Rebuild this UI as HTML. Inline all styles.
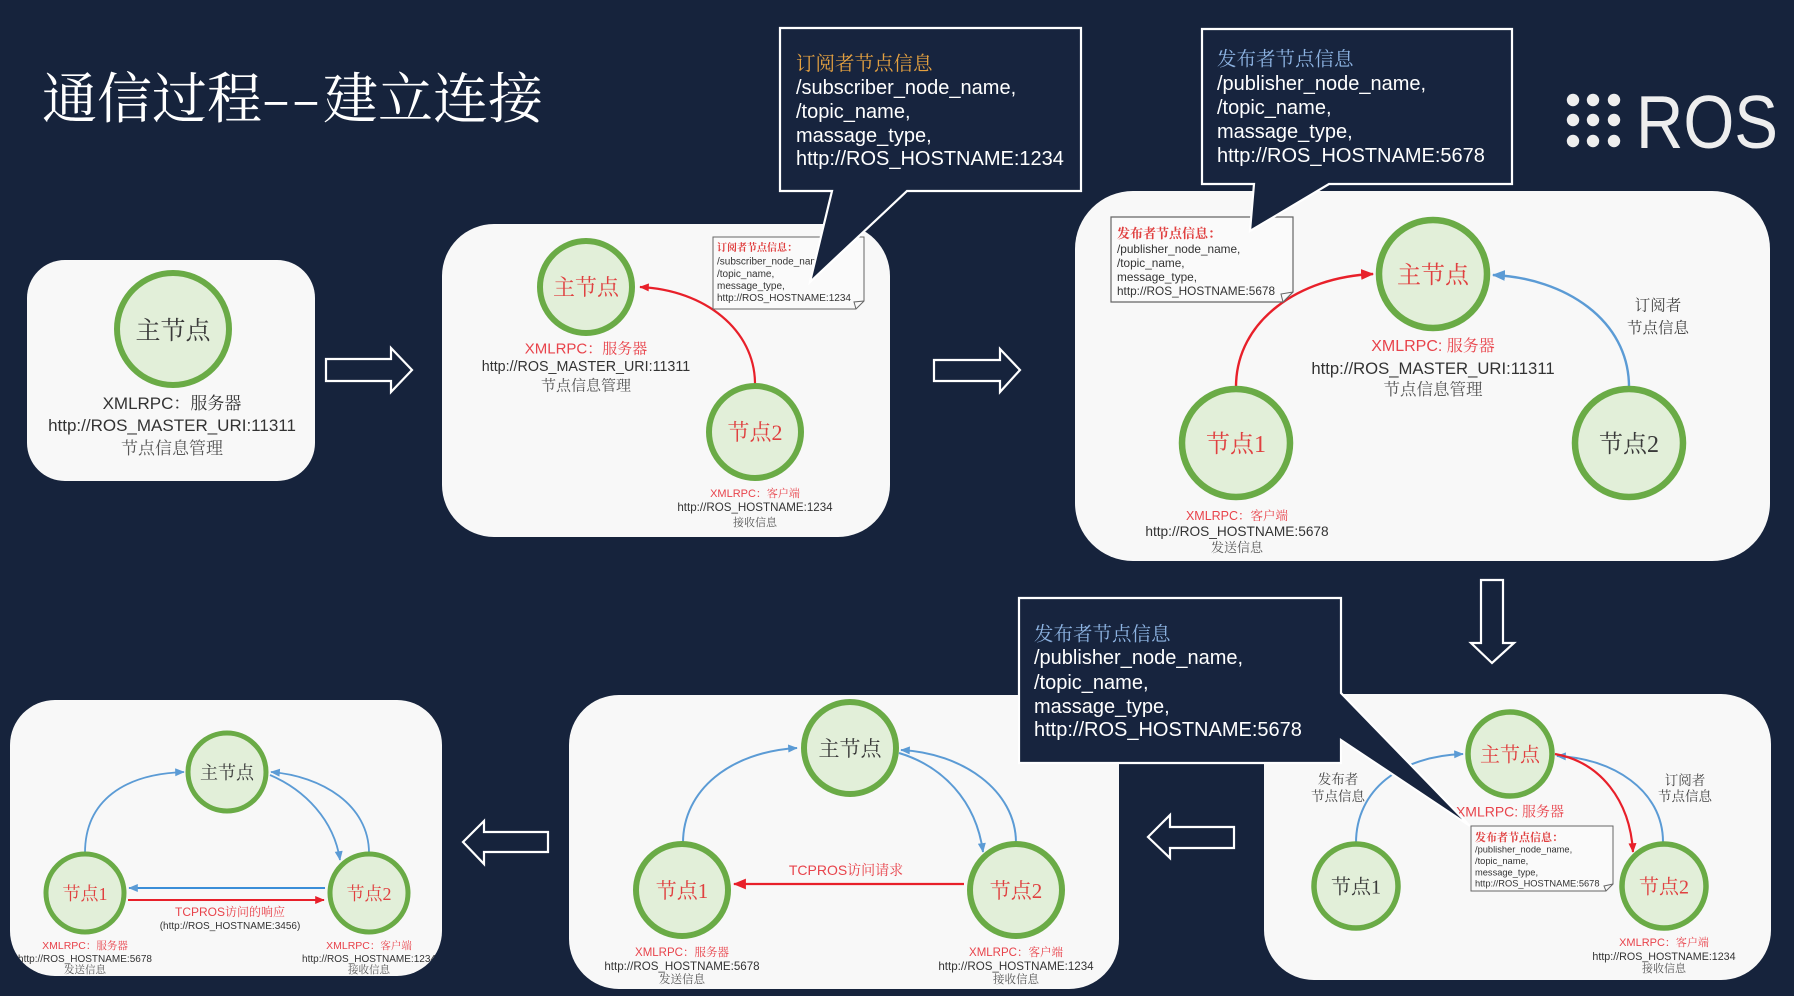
<!DOCTYPE html>
<html>
<head>
<meta charset="utf-8">
<style>
  html,body{margin:0;padding:0;background:#16233c;}
  svg{display:block;}
  .cj{font-family:"Liberation Serif","Noto Serif CJK SC",serif;}
  .ls{font-family:"Liberation Sans","Noto Serif CJK SC",serif;}
  .sc{font-family:"Noto Serif CJK SC","Liberation Serif",serif;}
</style>
</head>
<body>
<svg width="1794" height="996" viewBox="0 0 1794 996" xmlns="http://www.w3.org/2000/svg">
  <defs>
    <marker id="rL" viewBox="0 0 12 10" refX="11" refY="5" markerWidth="13" markerHeight="11" markerUnits="userSpaceOnUse" orient="auto">
      <path d="M0,0 L12,5 L0,10 z" fill="#e8202a"/>
    </marker>
    <marker id="bL" viewBox="0 0 12 10" refX="11" refY="5" markerWidth="13" markerHeight="11" markerUnits="userSpaceOnUse" orient="auto">
      <path d="M0,0 L12,5 L0,10 z" fill="#5b9bd5"/>
    </marker>
    <marker id="rS" viewBox="0 0 12 10" refX="11" refY="5" markerWidth="10" markerHeight="8" markerUnits="userSpaceOnUse" orient="auto">
      <path d="M0,0 L12,5 L0,10 z" fill="#e8202a"/>
    </marker>
    <marker id="bS" viewBox="0 0 12 10" refX="11" refY="5" markerWidth="10" markerHeight="8" markerUnits="userSpaceOnUse" orient="auto">
      <path d="M0,0 L12,5 L0,10 z" fill="#5b9bd5"/>
    </marker>
    <clipPath id="c6"><rect x="10" y="700" width="432" height="276" rx="45"/></clipPath>
  </defs>

  <rect x="0" y="0" width="1794" height="996" fill="#16233c"/>

  <!-- Title -->
  <text x="42" y="118" class="sc" font-size="55" fill="#ffffff">通信过程</text>
  <text x="261" y="118" class="sc" font-size="55" fill="#ffffff" textLength="60" lengthAdjust="spacingAndGlyphs">--</text>
  <text x="323" y="118" class="sc" font-size="55" fill="#ffffff">建立连接</text>

  <!-- ROS logo -->
  <g fill="#eeeeee">
    <circle cx="1573" cy="100" r="6.2"/><circle cx="1593" cy="100" r="6.2"/><circle cx="1614" cy="100" r="6.2"/>
    <circle cx="1573" cy="120" r="6.2"/><circle cx="1593" cy="120" r="6.2"/><circle cx="1614" cy="120" r="6.2"/>
    <circle cx="1573" cy="141" r="6.2"/><circle cx="1593" cy="141" r="6.2"/><circle cx="1614" cy="141" r="6.2"/>
  </g>
  <text x="1636" y="148" font-family="Liberation Sans, sans-serif" font-size="75" fill="#eeeeee" textLength="142" lengthAdjust="spacingAndGlyphs">ROS</text>

  <!-- ===== Box 1 ===== -->
  <rect x="27" y="260" width="288" height="221" rx="38" fill="#f8f8f8"/>
  <circle cx="173" cy="329" r="56" fill="#e2efd9" stroke="#6aab46" stroke-width="6"/>
  <text x="173" y="339" class="cj" font-size="25" fill="#3a3a3a" text-anchor="middle">主节点</text>
  <text x="172" y="409" class="ls" font-size="17" fill="#333" text-anchor="middle">XMLRPC：服务器</text>
  <text x="172" y="431" class="ls" font-size="17" fill="#333" text-anchor="middle">http://ROS_MASTER_URI:11311</text>
  <text x="172" y="454" class="ls" font-size="17" fill="#555" text-anchor="middle">节点信息管理</text>

  <!-- Arrow 1 -->
  <path d="M326,359 H391 V348 L412,370 L391,392 V381 H326 Z" fill="#16233c" stroke="#ffffff" stroke-width="2.2" stroke-linejoin="miter"/>

  <!-- ===== Box 2 ===== -->
  <rect x="442" y="224" width="448" height="313" rx="52" fill="#f8f8f8"/>
  <path d="M755,384 C755,330 705,290 640,287" fill="none" stroke="#e8202a" stroke-width="2.2" marker-end="url(#rS)"/>
  <circle cx="586" cy="287" r="46" fill="#e2efd9" stroke="#6aab46" stroke-width="6"/>
  <text x="586" y="295" class="cj" font-size="22" fill="#e04040" text-anchor="middle">主节点</text>
  <text x="586" y="353.5" class="ls" font-size="15" fill="#e8434b" text-anchor="middle">XMLRPC：服务器</text>
  <text x="586" y="371" class="ls" font-size="14.3" fill="#333" text-anchor="middle">http://ROS_MASTER_URI:11311</text>
  <text x="586" y="390.5" class="ls" font-size="15" fill="#555" text-anchor="middle">节点信息管理</text>
  <circle cx="755" cy="432" r="46" fill="#e2efd9" stroke="#6aab46" stroke-width="6"/>
  <text x="755" y="440" class="cj" font-size="22" fill="#e04040" text-anchor="middle">节点2</text>
  <text x="755" y="497" class="ls" font-size="11" fill="#e8434b" text-anchor="middle">XMLRPC：客户端</text>
  <text x="755" y="511" class="ls" font-size="11.6" fill="#333" text-anchor="middle">http://ROS_HOSTNAME:1234</text>
  <text x="755" y="526" class="ls" font-size="11" fill="#555" text-anchor="middle">接收信息</text>
  <!-- note -->
  <path d="M713,237 H864 V301 L856,309 H713 Z" fill="#fafafa" stroke="#666" stroke-width="1"/>
  <path d="M864,301 L854,302 L856,309" fill="none" stroke="#666" stroke-width="1"/>
  <text x="717" y="251" class="ls" font-size="10" font-weight="bold" fill="#e04040">订阅者节点信息：</text>
  <text x="717" y="264.5" class="ls" font-size="10" fill="#333">/subscriber_node_name,</text>
  <text x="717" y="277" class="ls" font-size="10" fill="#333">/topic_name,</text>
  <text x="717" y="289" class="ls" font-size="10" fill="#333">message_type,</text>
  <text x="717" y="301" class="ls" font-size="10" fill="#333">http://ROS_HOSTNAME:1234</text>

  <!-- Callout 1 -->
  <path d="M780,28 H1081 V191 H907 L810,282 L832,191 H780 Z" fill="#17243e" stroke="#ffffff" stroke-width="2.2" stroke-linejoin="miter"/>
  <text x="796" y="70" class="sc" font-size="19.5" fill="#e5a140">订阅者节点信息</text>
  <text x="796" y="94" font-family="Liberation Sans, sans-serif" font-size="20" fill="#ffffff">/subscriber_node_name,</text>
  <text x="796" y="118" font-family="Liberation Sans, sans-serif" font-size="20" fill="#ffffff">/topic_name,</text>
  <text x="796" y="142" font-family="Liberation Sans, sans-serif" font-size="20" fill="#ffffff">massage_type,</text>
  <text x="796" y="165" font-family="Liberation Sans, sans-serif" font-size="20" fill="#ffffff">http://ROS_HOSTNAME:1234</text>

  <!-- Arrow 2 -->
  <path d="M934,360 H1000 V349 L1020,370 L1000,392 V381 H934 Z" fill="#16233c" stroke="#ffffff" stroke-width="2.2"/>

  <!-- ===== Box 3 ===== -->
  <rect x="1075" y="191" width="695" height="370" rx="58" fill="#f8f8f8"/>
  <path d="M1236,387 C1236,320 1300,277 1373,274" fill="none" stroke="#e8202a" stroke-width="2.4" marker-end="url(#rL)"/>
  <path d="M1629,387 C1629,320 1565,278 1493,275" fill="none" stroke="#5b9bd5" stroke-width="2.4" marker-end="url(#bL)"/>
  <circle cx="1433" cy="274" r="54" fill="#e2efd9" stroke="#6aab46" stroke-width="6.5"/>
  <text x="1433" y="283" class="cj" font-size="24" fill="#e04040" text-anchor="middle">主节点</text>
  <circle cx="1236" cy="443" r="54" fill="#e2efd9" stroke="#6aab46" stroke-width="6.5"/>
  <text x="1236" y="452" class="cj" font-size="24" fill="#e04040" text-anchor="middle">节点1</text>
  <circle cx="1629" cy="443" r="54" fill="#e2efd9" stroke="#6aab46" stroke-width="6.5"/>
  <text x="1629" y="452" class="cj" font-size="24" fill="#3a3a3a" text-anchor="middle">节点2</text>
  <text x="1658" y="310.5" class="sc" font-size="15.5" fill="#444" text-anchor="middle">订阅者</text>
  <text x="1658" y="333" class="sc" font-size="15.5" fill="#444" text-anchor="middle">节点信息</text>
  <text x="1433" y="351" class="ls" font-size="16" fill="#e8434b" text-anchor="middle">XMLRPC: 服务器</text>
  <text x="1433" y="374" class="ls" font-size="16.7" fill="#333" text-anchor="middle">http://ROS_MASTER_URI:11311</text>
  <text x="1433" y="395" class="ls" font-size="16.5" fill="#555" text-anchor="middle">节点信息管理</text>
  <text x="1237" y="520" class="ls" font-size="12.5" fill="#e8434b" text-anchor="middle">XMLRPC：客户端</text>
  <text x="1237" y="536" class="ls" font-size="13.7" fill="#333" text-anchor="middle">http://ROS_HOSTNAME:5678</text>
  <text x="1237" y="552" class="ls" font-size="13" fill="#555" text-anchor="middle">发送信息</text>
  <!-- note -->
  <path d="M1111,217 H1293 V292 L1283,302 H1111 Z" fill="#fafafa" stroke="#666" stroke-width="1.2"/>
  <path d="M1293,292 L1281,294 L1283,302" fill="none" stroke="#666" stroke-width="1"/>
  <text x="1117" y="238" class="ls" font-size="13" font-weight="bold" fill="#e04040">发布者节点信息：</text>
  <text x="1117" y="253" class="ls" font-size="11.8" fill="#333">/publisher_node_name,</text>
  <text x="1117" y="267" class="ls" font-size="11.8" fill="#333">/topic_name,</text>
  <text x="1117" y="281" class="ls" font-size="11.8" fill="#333">message_type,</text>
  <text x="1117" y="295" class="ls" font-size="11.8" fill="#333">http://ROS_HOSTNAME:5678</text>

  <!-- Callout 2 -->
  <path d="M1202,29 H1512 V184 H1329 L1250,231 L1254,184 H1202 Z" fill="#17243e" stroke="#ffffff" stroke-width="2.2"/>
  <text x="1217" y="65.5" class="sc" font-size="19.5" fill="#8db3e2">发布者节点信息</text>
  <text x="1217" y="90" font-family="Liberation Sans, sans-serif" font-size="20" fill="#ffffff">/publisher_node_name,</text>
  <text x="1217" y="114" font-family="Liberation Sans, sans-serif" font-size="20" fill="#ffffff">/topic_name,</text>
  <text x="1217" y="138" font-family="Liberation Sans, sans-serif" font-size="20" fill="#ffffff">massage_type,</text>
  <text x="1217" y="162" font-family="Liberation Sans, sans-serif" font-size="20" fill="#ffffff">http://ROS_HOSTNAME:5678</text>

  <!-- Down arrow -->
  <path d="M1481,580 V643 H1471 L1492,663 L1514,643 H1503 V580 Z" fill="#16233c" stroke="#ffffff" stroke-width="2.2"/>

  <!-- ===== Box 4 ===== -->
  <rect x="1264" y="694" width="507" height="286" rx="50" fill="#f8f8f8"/>
  <path d="M1356,843 C1356,790 1400,756 1463,754" fill="none" stroke="#5b9bd5" stroke-width="2" marker-end="url(#bS)"/>
  <path d="M1663,842 C1663,790 1612,758 1557,756" fill="none" stroke="#5b9bd5" stroke-width="2" marker-end="url(#bS)"/>
  <path d="M1555,754 C1600,762 1630,800 1633,852" fill="none" stroke="#e8202a" stroke-width="2.2" marker-end="url(#rS)"/>
  <circle cx="1510" cy="754" r="42" fill="#e2efd9" stroke="#6aab46" stroke-width="5.5"/>
  <text x="1510" y="761.5" class="cj" font-size="20" fill="#e04040" text-anchor="middle">主节点</text>
  <circle cx="1356" cy="886" r="42" fill="#e2efd9" stroke="#6aab46" stroke-width="5.5"/>
  <text x="1356" y="893.5" class="cj" font-size="20" fill="#3a3a3a" text-anchor="middle">节点1</text>
  <circle cx="1664" cy="886" r="42" fill="#e2efd9" stroke="#6aab46" stroke-width="5.5"/>
  <text x="1664" y="893.5" class="cj" font-size="20" fill="#e04040" text-anchor="middle">节点2</text>
  <text x="1685" y="785" class="sc" font-size="13.5" fill="#444" text-anchor="middle">订阅者</text>
  <text x="1685" y="801" class="sc" font-size="13.5" fill="#444" text-anchor="middle">节点信息</text>
  <text x="1338" y="784" class="sc" font-size="13.5" fill="#444" text-anchor="middle">发布者</text>
  <text x="1338" y="801" class="sc" font-size="13.5" fill="#444" text-anchor="middle">节点信息</text>
  <text x="1510" y="816.5" class="ls" font-size="14" fill="#e8434b" text-anchor="middle">XMLRPC: 服务器</text>
  <text x="1664" y="946" class="ls" font-size="11" fill="#e8434b" text-anchor="middle">XMLRPC：客户端</text>
  <text x="1664" y="960" class="ls" font-size="10.7" fill="#333" text-anchor="middle">http://ROS_HOSTNAME:1234</text>
  <text x="1664" y="972" class="ls" font-size="11" fill="#555" text-anchor="middle">接收信息</text>
  <!-- note -->
  <path d="M1471,826 H1613 V884 L1606,891 H1471 Z" fill="#fafafa" stroke="#666" stroke-width="1"/>
  <path d="M1613,884 L1604,886 L1606,891" fill="none" stroke="#666" stroke-width="1"/>
  <text x="1475" y="841" class="ls" font-size="11" font-weight="bold" fill="#e04040">发布者节点信息：</text>
  <text x="1475" y="852.5" class="ls" font-size="9.3" fill="#333">/publisher_node_name,</text>
  <text x="1475" y="864" class="ls" font-size="9.3" fill="#333">/topic_name,</text>
  <text x="1475" y="875.5" class="ls" font-size="9.3" fill="#333">message_type,</text>
  <text x="1475" y="886.5" class="ls" font-size="9.3" fill="#333">http://ROS_HOSTNAME:5678</text>

  <!-- Left arrow 1 -->
  <path d="M1234,827 H1170 V815 L1148,837 L1170,858 V848 H1234 Z" fill="#16233c" stroke="#ffffff" stroke-width="2.2"/>

  <!-- ===== Box 5 ===== -->
  <rect x="569" y="695" width="550" height="294" rx="50" fill="#f8f8f8"/>
  <path d="M683,843 C683,790 730,752 797,748" fill="none" stroke="#5b9bd5" stroke-width="2" marker-end="url(#bS)"/>
  <path d="M1016,843 C1016,790 962,753 901,750" fill="none" stroke="#5b9bd5" stroke-width="2" marker-end="url(#bS)"/>
  <path d="M899,753 C942,766 976,800 983,852" fill="none" stroke="#5b9bd5" stroke-width="2" marker-end="url(#bS)"/>
  <path d="M964,884 H734" fill="none" stroke="#e8202a" stroke-width="2.2" marker-end="url(#rL)"/>
  <circle cx="850" cy="748" r="46" fill="#e2efd9" stroke="#6aab46" stroke-width="6"/>
  <text x="850" y="756" class="cj" font-size="21" fill="#3a3a3a" text-anchor="middle">主节点</text>
  <circle cx="682" cy="890" r="46" fill="#e2efd9" stroke="#6aab46" stroke-width="6"/>
  <text x="682" y="898" class="cj" font-size="21" fill="#e04040" text-anchor="middle">节点1</text>
  <circle cx="1016" cy="890" r="46" fill="#e2efd9" stroke="#6aab46" stroke-width="6"/>
  <text x="1016" y="898" class="cj" font-size="21" fill="#e04040" text-anchor="middle">节点2</text>
  <text x="846" y="875" class="ls" font-size="14" fill="#e8434b" text-anchor="middle">TCPROS访问请求</text>
  <text x="682" y="956" class="ls" font-size="11.5" fill="#e8434b" text-anchor="middle">XMLRPC：服务器</text>
  <text x="682" y="970" class="ls" font-size="11.6" fill="#333" text-anchor="middle">http://ROS_HOSTNAME:5678</text>
  <text x="682" y="983" class="ls" font-size="11.5" fill="#555" text-anchor="middle">发送信息</text>
  <text x="1016" y="956" class="ls" font-size="11.5" fill="#e8434b" text-anchor="middle">XMLRPC：客户端</text>
  <text x="1016" y="970" class="ls" font-size="11.6" fill="#333" text-anchor="middle">http://ROS_HOSTNAME:1234</text>
  <text x="1016" y="983" class="ls" font-size="11.5" fill="#555" text-anchor="middle">接收信息</text>

  <!-- Callout 3 -->
  <path d="M1019,598 H1341 V693 L1470,826 L1341,740 V763 H1019 Z" fill="#17243e" stroke="#ffffff" stroke-width="2.2" stroke-linejoin="miter"/>
  <text x="1034" y="640.5" class="sc" font-size="19.5" fill="#8db3e2">发布者节点信息</text>
  <text x="1034" y="664" font-family="Liberation Sans, sans-serif" font-size="20" fill="#ffffff">/publisher_node_name,</text>
  <text x="1034" y="689" font-family="Liberation Sans, sans-serif" font-size="20" fill="#ffffff">/topic_name,</text>
  <text x="1034" y="713" font-family="Liberation Sans, sans-serif" font-size="20" fill="#ffffff">massage_type,</text>
  <text x="1034" y="736" font-family="Liberation Sans, sans-serif" font-size="20" fill="#ffffff">http://ROS_HOSTNAME:5678</text>

  <!-- Left arrow 2 -->
  <path d="M548,832 H484 V821 L463,842 L484,864 V852 H548 Z" fill="#16233c" stroke="#ffffff" stroke-width="2.2"/>

  <!-- ===== Box 6 ===== -->
  <rect x="10" y="700" width="432" height="276" rx="45" fill="#f8f8f8"/>
  <g clip-path="url(#c6)">
    <path d="M85,853 C85,800 125,774 184,772" fill="none" stroke="#5b9bd5" stroke-width="1.8" marker-end="url(#bS)"/>
    <path d="M369,853 C369,805 322,776 271,772" fill="none" stroke="#5b9bd5" stroke-width="1.8" marker-end="url(#bS)"/>
    <path d="M270,775 C305,790 334,820 340,860" fill="none" stroke="#5b9bd5" stroke-width="1.8" marker-end="url(#bS)"/>
    <path d="M325,888 H129" fill="none" stroke="#3b8ed8" stroke-width="2" marker-end="url(#bS)"/>
    <path d="M128,900 H324" fill="none" stroke="#e8202a" stroke-width="2" marker-end="url(#rS)"/>
    <circle cx="227" cy="772" r="39" fill="#e2efd9" stroke="#6aab46" stroke-width="5"/>
    <text x="227" y="779" class="cj" font-size="18" fill="#3a3a3a" text-anchor="middle">主节点</text>
    <circle cx="85" cy="893" r="39" fill="#e2efd9" stroke="#6aab46" stroke-width="5"/>
    <text x="85" y="900" class="cj" font-size="18" fill="#e04040" text-anchor="middle">节点1</text>
    <circle cx="369" cy="893" r="39" fill="#e2efd9" stroke="#6aab46" stroke-width="5"/>
    <text x="369" y="900" class="cj" font-size="18" fill="#e04040" text-anchor="middle">节点2</text>
    <text x="230" y="916" class="ls" font-size="12" fill="#e8434b" text-anchor="middle">TCPROS访问的响应</text>
    <text x="230" y="929" class="ls" font-size="10" fill="#333" text-anchor="middle">(http://ROS_HOSTNAME:3456)</text>
    <text x="85" y="949" class="ls" font-size="10.5" fill="#e8434b" text-anchor="middle">XMLRPC：服务器</text>
    <text x="85" y="962" class="ls" font-size="10" fill="#333" text-anchor="middle">http://ROS_HOSTNAME:5678</text>
    <text x="85" y="973" class="ls" font-size="10.5" fill="#555" text-anchor="middle">发送信息</text>
    <text x="369" y="949" class="ls" font-size="10.5" fill="#e8434b" text-anchor="middle">XMLRPC：客户端</text>
    <text x="369" y="962" class="ls" font-size="10" fill="#333" text-anchor="middle">http://ROS_HOSTNAME:1234</text>
    <text x="369" y="973" class="ls" font-size="10.5" fill="#555" text-anchor="middle">接收信息</text>
  </g>
</svg>
</body>
</html>
